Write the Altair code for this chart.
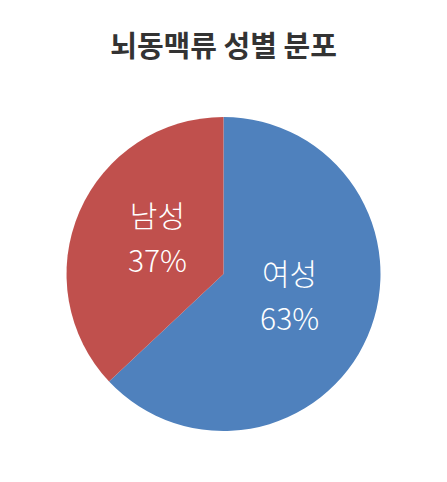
import altair as alt
import pandas as pd

categories = ["여성", "남성"]
values = [63, 37]
labels = ["여성\n63%", "남성\n37%"]
colors = ["#4F81BD", "#C0504D"]

df = pd.DataFrame({"cat": categories, "val": values, "label": labels, "ord": [0, 1]})

base = alt.Chart(df).encode(
    theta=alt.Theta("val:Q", stack=True),
    order=alt.Order("ord:Q"),
)

pie = base.mark_arc(outerRadius=157, stroke=None).encode(
    color=alt.Color("cat:N", scale=alt.Scale(domain=categories, range=colors), legend=None)
)

text = base.mark_text(
    radius=72, lineBreak="\n", font="Noto Sans CJK KR", fontSize=30, fontWeight=300,
    color="white", lineHeight=45, dy=-27
).encode(text="label:N")

chart = alt.layer(pie, text).properties(
    width=431, height=412,
    padding={"top": 60, "left": 0, "right": 0, "bottom": 0},
    autosize=alt.AutoSizeParams(type="none"),
    title=alt.TitleParams("뇌동맥류 성별 분포", font="Noto Sans CJK KR", fontSize=29,
                          fontWeight="bold", color="#333333", anchor="middle", offset=5),
).configure_view(stroke=None)

chart.save("out.html", embed_options={"renderer": "svg", "actions": False})
